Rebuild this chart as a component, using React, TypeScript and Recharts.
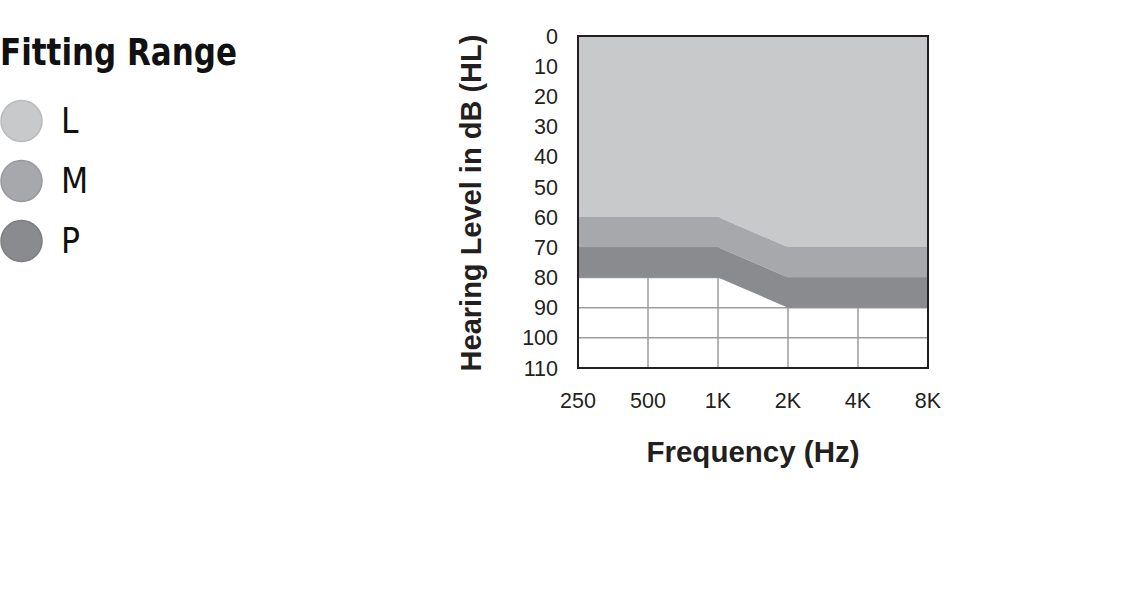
import { AreaChart, Area, XAxis, YAxis, CartesianGrid, ReferenceArea } from 'recharts'

const frequencies = ['250', '500', '1K', '2K', '4K', '8K']
const levelTicks = [0, 10, 20, 30, 40, 50, 60, 70, 80, 90, 100, 110]

// lower edge (dB HL) of each fitting band, per frequency
const lowerL = [60, 60, 60, 70, 70, 70]
const lowerM = [70, 70, 70, 80, 80, 80]
const lowerP = [80, 80, 80, 90, 90, 90]

const seriesNames = ['L', 'M', 'P']
const seriesColors = ['#c8c9cb', '#a7a8ab', '#8a8b8e']
const seriesStrokes = ['#b9babc', '#98999c', '#7c7d80']

const data = frequencies.map((f, i) => ({
  freq: f,
  L: [0, lowerL[i]],
  M: [lowerL[i], lowerM[i]],
  P: [lowerM[i], lowerP[i]],
}))

const ink = '#231f20'
const narrow = "'Liberation Sans Narrow', 'DejaVu Sans Condensed', 'Liberation Sans', sans-serif"
const sans = "'Liberation Sans', Arial, sans-serif"

function FittingLegend() {
  return (
    <svg width={300} height={280} style={{ position: 'absolute', left: 0, top: 0 }}>
      <text x={0} y={65} fontFamily={narrow} fontWeight="bold" fontSize={38} fill="#111" textLength={237} lengthAdjust="spacingAndGlyphs">
        Fitting Range
      </text>
      {seriesNames.map((name, i) => (
        <g key={name}>
          <circle cx={21.5} cy={121 + i * 60} r={20.5} fill={seriesColors[i]} stroke={seriesStrokes[i]} strokeWidth={1.5} />
          <text x={61} y={133 + i * 60} fontFamily={narrow} fontSize={35} fill="#111">
            {name}
          </text>
        </g>
      ))}
    </svg>
  )
}

export default function App() {
  return (
    <div style={{ position: 'fixed', left: 0, top: 0, width: 1140, height: 595, background: '#fff' }}>
      <FittingLegend />
      <div style={{ position: 'absolute', left: 0, top: 0 }}>
        <AreaChart width={1140} height={595} data={data} margin={{ top: 36, right: 212, bottom: 197, left: 518 }}>
          <CartesianGrid stroke="#9d9d9d" strokeWidth={1.5} />
          <XAxis
            dataKey="freq"
            height={30}
            axisLine={false}
            tickLine={false}
            tickSize={0}
            tickMargin={25}
            tick={{ fontFamily: sans, fontSize: 21.5, fill: ink }}
            interval={0}
            label={{
              content: (props: any) => {
                const vb = props.viewBox
                return (
                  <text x={vb.x + vb.width / 2} y={vb.y + 94} textAnchor="middle" fontFamily={sans} fontWeight="bold" fontSize={29.5} fill={ink}>
                    Frequency (Hz)
                  </text>
                )
              },
            }}
          />
          <YAxis
            type="number"
            domain={[0, 110]}
            ticks={levelTicks}
            reversed
            width={60}
            axisLine={false}
            tickLine={false}
            tickSize={0}
            tickMargin={20}
            interval={0}
            tick={{ fontFamily: sans, fontSize: 21.5, fill: ink }}
            label={{
              content: (props: any) => {
                const vb = props.viewBox
                const cx = vb.x - 37
                const cy = vb.y + vb.height / 2 + 1
                return (
                  <text x={cx} y={cy} transform={`rotate(-90 ${cx} ${cy})`} textAnchor="middle" fontFamily={sans} fontWeight="bold" fontSize={29} fill={ink}>
                    Hearing Level in dB (HL)
                  </text>
                )
              },
            }}
          />
          {seriesNames.map((name, i) => (
            <Area
              key={name}
              type="linear"
              dataKey={name}
              stroke="none"
              fill={seriesColors[i]}
              fillOpacity={1}
              isAnimationActive={false}
              activeDot={false}
            />
          ))}
          <ReferenceArea x1="250" x2="8K" y1={0} y2={110} fill="none" stroke={ink} strokeWidth={2} ifOverflow="visible" />
        </AreaChart>
      </div>
    </div>
  )
}
